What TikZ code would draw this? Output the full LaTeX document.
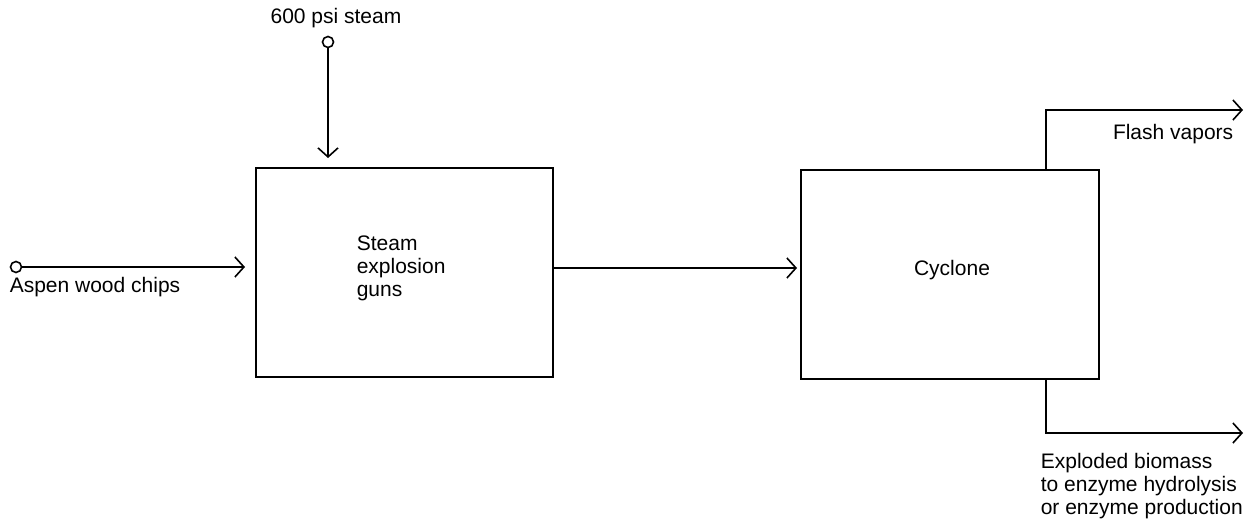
\documentclass[tikz,border=0pt]{standalone}
\usepackage{fontspec}
\setmainfont{Liberation Sans}
\usetikzlibrary{arrows.meta}
\begin{document}
\begin{tikzpicture}[x=1pt,y=-1pt,
  line width=1.6pt,
  flow/.style={-{Straight Barb[length=9pt,width=20pt,line width=1.6pt]}},
  unit/.style={draw,rectangle,inner sep=0pt},
  port/.style={draw,circle,fill=white,inner sep=0pt,minimum size=11pt,line width=1.6pt},
  lbl/.style={inner sep=0pt,font=\fontsize{21}{23}\selectfont}
]
\path[use as bounding box] (0,0) rectangle (1246,519);

% units
\node[unit,minimum width=297pt,minimum height=209pt] (guns) at (404.5,272.5) {};
\node[unit,minimum width=298pt,minimum height=209pt] (cyc) at (950,274.5) {};
\node[lbl,anchor=west,align=left] (gunstxt) at (356,268) {Steam\\explosion\\guns};
\node[lbl] (cyctxt) at (952,270) {Cyclone};

% inputs
\node[port] (chips) at (16,267) {};
\coordinate (chipsend) at (245,267);
\draw[flow] (chips) -- (chipsend);
\node[lbl,anchor=base west] (chipslbl) at (9,292) {Aspen wood chips};

\node[port] (steam) at (328,42) {};
\coordinate (steamend) at (328,158);
\draw[flow] (steam) -- (steamend);
\node[lbl,anchor=base] (steamlbl) at (336,24) {600 psi steam};

% guns to cyclone
\coordinate (mid) at (797,268);
\draw[flow] (guns.east |- mid) -- (mid);

% outputs
\coordinate (fv1) at (1046,110);
\coordinate (fvend) at (1243,110);
\draw[flow] (cyc.north -| fv1) -- (fv1) -- (fvend);
\node[lbl,anchor=base east] (fvlbl) at (1234,139) {Flash vapors};

\coordinate (eb1) at (1046,433);
\coordinate (ebend) at (1243,433);
\draw[flow] (cyc.south -| eb1) -- (eb1) -- (ebend);
\node[lbl,anchor=north west,align=left] (eblbl) at (1040,452) {Exploded biomass\\to enzyme hydrolysis\\or enzyme production};
\end{tikzpicture}
\end{document}
